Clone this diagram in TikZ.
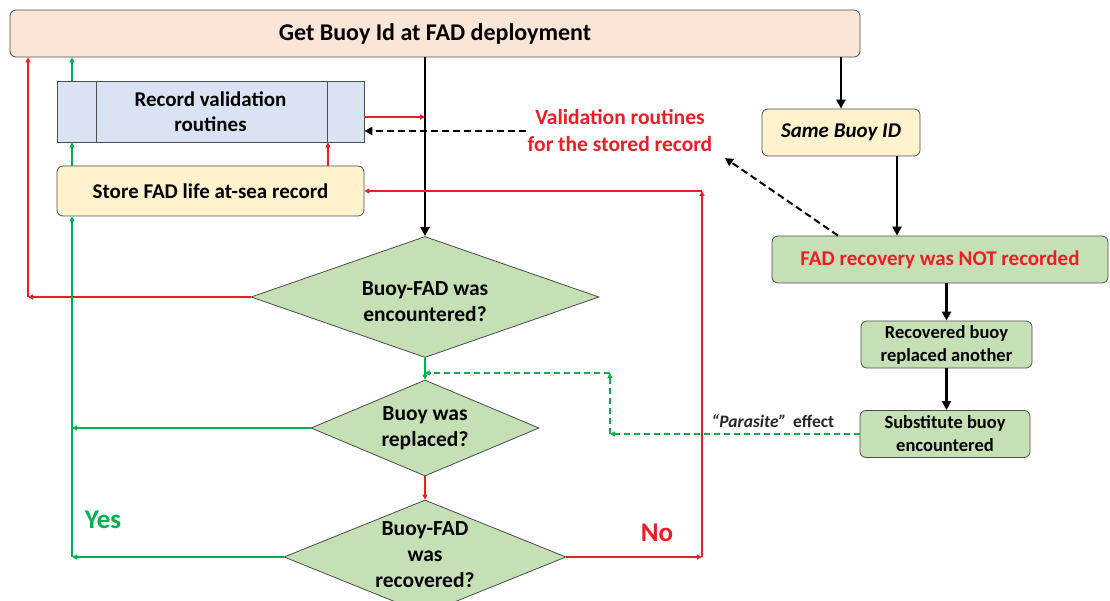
\documentclass[tikz,border=0pt]{standalone}
\usepackage{fontspec}
\setmainfont{Carlito}
\usetikzlibrary{shapes.geometric, arrows.meta}

\definecolor{peach}{HTML}{FBE5D6}
\definecolor{paleblue}{HTML}{DAE3F3}
\definecolor{paleyellow}{HTML}{FFF2CC}
\definecolor{palegreen}{HTML}{C5E0B4}
\definecolor{flowred}{HTML}{EE1C25}
\definecolor{flowgreen}{HTML}{00B050}

\begin{document}
\begin{tikzpicture}[x=1pt, y=-1pt,
    box/.style={draw=black!70, line width=0.8pt, align=center, inner sep=0pt,
        font=\bfseries\fontsize{21}{25}\selectfont},
    roundbox/.style={box, rounded corners=6pt},
    smallbox/.style={roundbox, fill=palegreen, font=\bfseries\fontsize{18.5}{23}\selectfont},
    decision/.style={diamond, draw=black!70, line width=0.8pt, fill=palegreen, inner sep=0pt},
    dlabel/.style={align=center, inner sep=0pt, font=\bfseries\fontsize{21.5}{26}\selectfont},
    bigword/.style={font=\bfseries\fontsize{27}{30}\selectfont},
    blackarrow/.style={line width=2.6pt, -{Triangle[length=9pt, width=9pt]}},
    blackdash/.style={line width=2pt, dash pattern=on 7pt off 4pt, -{Triangle[length=8pt, width=8pt]}},
    redarrow/.style={flowred, line width=1.5pt, -{Triangle[length=5pt, width=5pt]}},
    greenarrow/.style={flowgreen, line width=1.5pt, -{Triangle[length=5pt, width=5pt]}},
    greendash/.style={greenarrow, dash pattern=on 6pt off 4pt}]
    \useasboundingbox (0,0) rectangle (1110,601);
    \clip (0,0) rectangle (1110,601);

    % boxes on the left
    \node[roundbox, fill=peach, minimum width=850, minimum height=47,
        font=\bfseries\fontsize{24}{28}\selectfont] (top) at (435,33.5) {Get Buoy Id at FAD deployment};
    \node[box, fill=paleblue, minimum width=307, minimum height=61] (rv) at (210.5,111.5) {Record validation\\routines};
    \draw[black!70, line width=0.8pt] ([xshift=40pt]rv.north west) -- ([xshift=40pt]rv.south west);
    \draw[black!70, line width=0.8pt] ([xshift=-37pt]rv.north east) -- ([xshift=-37pt]rv.south east);
    \node[roundbox, fill=paleyellow, minimum width=307, minimum height=50] (store) at (210.5,191) {Store FAD life at-sea record};

    % boxes on the right
    \node[roundbox, fill=paleyellow, minimum width=158, minimum height=47,
        font=\bfseries\itshape\fontsize{21}{25}\selectfont] (same) at (841,132.5) {Same Buoy ID};
    \node[roundbox, fill=palegreen, minimum width=336, minimum height=47, text=flowred] (notrec) at (940,259.5) {FAD recovery was NOT recorded};
    \node[smallbox, minimum width=171, minimum height=47] (rec) at (946.5,344.5) {Recovered buoy\\replaced another};
    \node[smallbox, minimum width=170, minimum height=47] (sub) at (945,434) {Substitute buoy\\encountered};

    % decisions
    \node[decision, minimum width=348, minimum height=121,
        label={[dlabel, yshift=-5pt]center:Buoy-FAD was\\encountered?}] (d1) at (425,297) {};
    \node[decision, minimum width=228, minimum height=96,
        label={[dlabel]center:Buoy was\\replaced?}] (d2) at (425,428) {};
    \node[decision, minimum width=282, minimum height=114,
        label={[dlabel, yshift=2pt]center:Buoy-FAD\\was\\recovered?}] (d3) at (425,557) {};

    % labels
    \node[text=flowred, align=center, inner sep=2pt, font=\bfseries\fontsize{21.5}{27}\selectfont] (valtext) at (620,131) {Validation routines\\for the stored record};
    \node[bigword, text=flowgreen] (yes) at (103,520) {Yes};
    \node[bigword, text=flowred] (no) at (657,533) {No};
    \node[text=black!85, font=\bfseries\fontsize{17.5}{20}\selectfont] (parasite) at (773,421) {{\itshape “Parasite”}\, effect};

    % corner points
    \coordinate (rl) at (28,297);
    \coordinate (gl) at (72,557);
    \coordinate (nr) at (702,557);
    \coordinate (pc) at (610,434);
    \coordinate (pt) at (610,373);
    \coordinate (s1) at (897,0);
    \coordinate (valtip) at (725,158);

    % black arrows
    \draw[blackarrow] (top.south -| d1.north) -- (d1.north);
    \draw[blackarrow] (top.south -| same.north) -- (same.north);
    \draw[blackarrow] (same.south -| s1) -- (notrec.north -| s1);
    \draw[blackarrow] (notrec.south -| rec.north) -- (rec.north);
    \draw[blackarrow] (rec.south) -- (rec.south |- sub.north);
    \draw[blackdash] ([xshift=-102pt]notrec.north) -- (valtip);
    \draw[blackdash] (valtext.west) -- (valtext.west -| rv.east);

    % red arrows
    \draw[redarrow] ([yshift=-5.5pt]rv.east) -- ([yshift=-5.5pt]rv.east -| d1.north);
    \draw[redarrow] ([xshift=117.5pt]store.north) -- ([xshift=117.5pt]rv.south);
    \draw[redarrow] (d1.west) -- (rl);
    \draw[redarrow] (rl) -- (rl |- top.south);
    \draw[redarrow] (d2.south) -- (d3.north);
    \draw[redarrow] (d3.east) -- (nr);
    \draw[redarrow] (nr) -- (nr |- store.east);
    \draw[redarrow] (nr |- store.east) -- (store.east);

    % green arrows
    \draw[greenarrow] (d1.south) -- (d2.north);
    \draw[greenarrow] (d2.west) -- (d2.west -| gl);
    \draw[greenarrow] (d3.west) -- (gl);
    \draw[greenarrow] (gl) -- (gl |- store.south);
    \draw[greenarrow] ([xshift=-138.5pt]store.north) -- ([xshift=-138.5pt]rv.south);
    \draw[greenarrow] ([xshift=-138.5pt]rv.north) -- ([xshift=-138.5pt]rv.north |- top.south);
    \draw[greendash] (sub.west) -- (pc);
    \draw[greendash] (pc) -- (pt);
    \draw[greendash] (pt) -- (pt -| d1.south);
\end{tikzpicture}
\end{document}
